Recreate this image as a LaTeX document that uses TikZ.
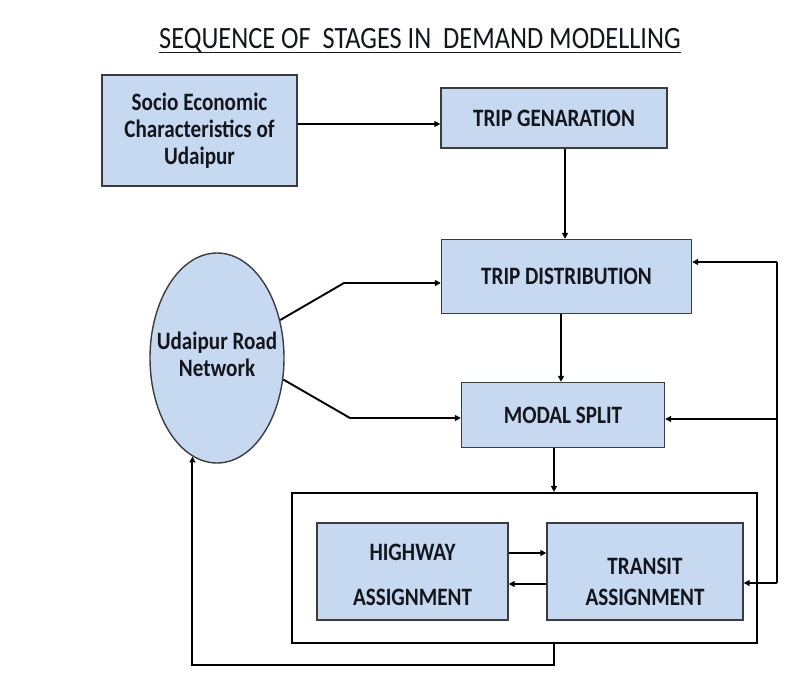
\documentclass[tikz,border=0pt]{standalone}
\usepackage{fontspec}
\setmainfont{Carlito}
\newfontfamily\titlefont{Carlito}[FakeStretch=0.85]
\newfontfamily\boxfont{Carlito}[FakeStretch=0.845]
\usetikzlibrary{shapes.geometric,arrows.meta,calc}
\definecolor{boxfill}{RGB}{198,217,240}
\definecolor{boxdraw}{RGB}{60,60,64}
\definecolor{txt}{RGB}{20,22,30}
\tikzset{
  stagebox/.style={draw=boxdraw,line width=1.4pt,fill=boxfill,inner sep=0pt,text=txt,font=\boxfont\bfseries\fontsize{25}{27}\selectfont,align=center},
  boxtext/.style={inner sep=0pt,text=txt,font=\boxfont\bfseries\fontsize{25}{27}\selectfont,align=center},
  conn/.style={line width=1.9pt,-{Triangle[length=6pt,width=6pt]}},
  plainline/.style={line width=1.9pt},
}
\begin{document}
\begin{tikzpicture}[x=1pt,y=-1pt]
\useasboundingbox (0,0) rectangle (785,679);
\fill[white] (0,0) rectangle (785,679);
% title
\node[inner sep=0pt,anchor=base,text=txt,font=\titlefont\fontsize{31}{34}\selectfont] (title) at (420,49) {SEQUENCE OF\ \ STAGES IN\ \ DEMAND MODELLING};
\draw[line width=1.8pt,txt] ($(title.base west)+(0,3.5)$) -- ($(title.base east)+(0,3.5)$);
% nodes
\node[stagebox,minimum width=195,minimum height=111] (soc) at (199.5,130.5) {Socio Economic\\Characteristics of\\Udaipur};
\node[stagebox,minimum width=226,minimum height=60] (tg) at (554,118) {TRIP GENARATION};
\node[stagebox,minimum width=250,minimum height=74] (td) at (566.5,276.5) {TRIP DISTRIBUTION};
\node[stagebox,minimum width=203,minimum height=65] (ms) at (563,415) {MODAL SPLIT};
\node[stagebox,ellipse,minimum width=134,minimum height=210] (rd) at (217,358) {};
\node[boxtext] (rdt) at (217,354) {Udaipur Road\\Network};
\node[draw=black,line width=2.2pt,minimum width=465,minimum height=150,inner sep=0pt] (outer) at (524.5,568) {};
\node[stagebox,minimum width=191,minimum height=97] (hw) at (412.5,571.5) {};
\node[stagebox,minimum width=196,minimum height=97] (tr) at (645,571.5) {};
\node[boxtext] (hwt1) at (412.5,552) {HIGHWAY};
\node[boxtext] (hwt2) at (412.5,597) {ASSIGNMENT};
\node[boxtext] (trt1) at (645,566) {TRANSIT};
\node[boxtext] (trt2) at (645,597) {ASSIGNMENT};
% coordinates
\coordinate (r1) at (777,262);
\coordinate (r2) at (777,419);
\coordinate (r3) at (777,583);
\coordinate (b1) at (554,665);
% connectors
\draw[conn] (soc.east |- 0,124) -- (tg.west |- 0,124);
\draw[conn] (565,0 |- tg.south) -- (565,0 |- td.north);
\draw[conn] (561,0 |- td.south) -- (561,0 |- ms.north);
\draw[conn] (554,0 |- ms.south) -- (554,0 |- outer.north);
\draw[conn] (rd.31) -- (344,283) -- (td.west |- 0,283);
\draw[conn] (rd.-18) -- (350,418) -- (ms.west |- 0,418);
\draw[conn] (hw.east |- 0,553) -- (tr.west |- 0,553);
\draw[conn] (tr.west |- 0,584) -- (hw.east |- 0,584);
\draw[plainline] (r1) -- (r3);
\draw[conn] (r1) -- (td.east |- r1);
\draw[conn] (r2) -- (ms.east |- r2);
\draw[conn] (r3) -- (tr.east |- r3);
\draw[conn] (554,0 |- outer.south) -- (b1) -- (rd.256 |- b1) -- (rd.256);
\end{tikzpicture}
\end{document}
